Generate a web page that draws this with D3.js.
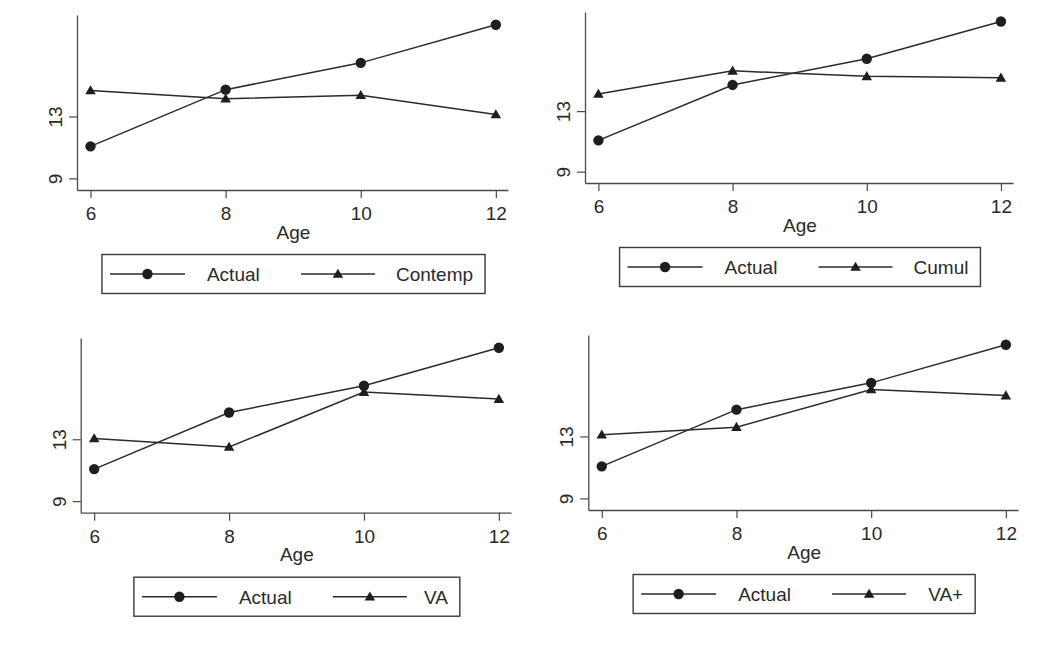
<!DOCTYPE html>
<html>
<head>
<meta charset="utf-8">
<script src="https://cdn.jsdelivr.net/npm/d3@7"></script>
<style>
  html, body { margin: 0; padding: 0; background: #ffffff; }
  svg { display: block; }
  text { font-family: "Liberation Sans", Arial, Helvetica, sans-serif; fill: #2a2a2a; }
</style>
</head>
<body>
<svg id="chart" width="1040" height="652"></svg>
<script>
// ---- data ----
const ages = [6, 8, 10, 12];
const actual = [11.07, 14.73, 16.46, 18.92];
const contemp = [14.68, 14.14, 14.37, 13.13];
const cumul = [14.13, 15.66, 15.30, 15.20];
const va = [13.05, 12.50, 16.05, 15.60];
const vaPlus = [13.11, 13.60, 16.03, 15.64];
const xTicks = [6, 8, 10, 12];
const yTicks = [9, 13];
const xTitle = "Age";
const actualLabel = "Actual";
const compLabels = ["Contemp", "Cumul", "VA", "VA+"];
const compSeries = [contemp, cumul, va, vaPlus];

// ---- layout ----
const panelBoxes = [
  { x0: 77,    x1: 508,  yb: 190,   yt: 15,  lab2: 294 },
  { x0: 585,   x1: 1013, yb: 183,   yt: 12,  lab2: 294 },
  { x0: 80.7,  x1: 511,  yb: 512.7, yt: 338, lab2: 290 },
  { x0: 588.3, x1: 1018, yb: 510,   yt: 335, lab2: 295 }
];

const svg = d3.select("#chart");
const ink = "#2b2b2b";
const axisInk = "#4a4a4a";
const fmt = d3.format("d");

panelBoxes.forEach((p, i) => {
  const x = d3.scaleLinear().domain([5.8, 12.18]).range([p.x0, p.x1]);
  const y = d3.scaleLinear().domain([8.25, 19.55]).range([p.yb, p.yt]);
  const g = svg.append("g");

  // x axis
  const xa = g.append("g").attr("transform", `translate(0,${p.yb})`)
    .call(d3.axisBottom(x).tickValues(xTicks).tickFormat(fmt).tickSize(8).tickSizeOuter(0).tickPadding(9));
  xa.select(".domain").attr("stroke", axisInk).attr("stroke-width", 1.3);
  xa.selectAll(".tick line").attr("stroke", axisInk).attr("stroke-width", 1.2);
  xa.selectAll(".tick text").style("font-size", "19px").attr("fill", ink);

  // y axis
  const ya = g.append("g").attr("transform", `translate(${p.x0},0)`)
    .call(d3.axisLeft(y).tickValues(yTicks).tickFormat(fmt).tickSize(8).tickSizeOuter(0));
  ya.select(".domain").attr("stroke", axisInk).attr("stroke-width", 1.3);
  ya.selectAll(".tick line").attr("stroke", axisInk).attr("stroke-width", 1.2);
  ya.selectAll(".tick text")
    .attr("transform", "rotate(-90)")
    .attr("x", 0).attr("y", -15).attr("dy", 0)
    .style("text-anchor", "middle")
    .style("font-size", "19px").attr("fill", ink);

  // x title
  const cx = (p.x0 + p.x1) / 2 + 1;
  g.append("text").attr("x", cx).attr("y", p.yb + 48.5)
    .attr("text-anchor", "middle").style("font-size", "19px").text(xTitle);

  // lines
  const line = d3.line().x((d, k) => x(ages[k])).y(d => y(d));
  const comp = compSeries[i];
  g.append("path").datum(comp).attr("d", line)
    .attr("fill", "none").attr("stroke", ink).attr("stroke-width", 1.5);
  g.append("path").datum(actual).attr("d", line)
    .attr("fill", "none").attr("stroke", ink).attr("stroke-width", 1.5);

  const tri = d3.symbol().type(d3.symbolTriangle).size(48);
  g.selectAll(".tri").data(comp).enter().append("path")
    .attr("d", tri)
    .attr("transform", (d, k) => `translate(${x(ages[k])},${y(d) + 0.8})`)
    .attr("fill", "#1e1e1e");
  g.selectAll(".dot").data(actual).enter().append("circle")
    .attr("cx", (d, k) => x(ages[k])).attr("cy", d => y(d)).attr("r", 5.2)
    .attr("fill", "#1e1e1e");

  // legend
  const lg = g.append("g");
  const top = p.yb + 64.5;
  const lineY = 19.5, textY = 26.5;
  const t2 = lg.append("text").attr("x", p.lab2).attr("y", textY)
    .style("font-size", "19px").text(compLabels[i]);
  const w = p.lab2 + t2.node().getComputedTextLength() + 12;
  const left = cx - w / 2;
  lg.attr("transform", `translate(${left},${top})`);
  lg.insert("rect", ":first-child").attr("x", 0).attr("y", 0).attr("width", w).attr("height", 39)
    .attr("fill", "#ffffff").attr("stroke", "#3a3a3a").attr("stroke-width", 1.4);
  lg.append("line").attr("x1", 8).attr("x2", 83).attr("y1", lineY).attr("y2", lineY)
    .attr("stroke", ink).attr("stroke-width", 1.5);
  lg.append("circle").attr("cx", 45.5).attr("cy", lineY).attr("r", 5.2).attr("fill", "#1e1e1e");
  lg.append("text").attr("x", 105).attr("y", textY).style("font-size", "19px").text(actualLabel);
  lg.append("line").attr("x1", 199).attr("x2", 273).attr("y1", lineY).attr("y2", lineY)
    .attr("stroke", ink).attr("stroke-width", 1.5);
  lg.append("path").attr("d", tri).attr("transform", `translate(236,${lineY + 0.8})`).attr("fill", "#1e1e1e");
});
</script>
</body>
</html>
